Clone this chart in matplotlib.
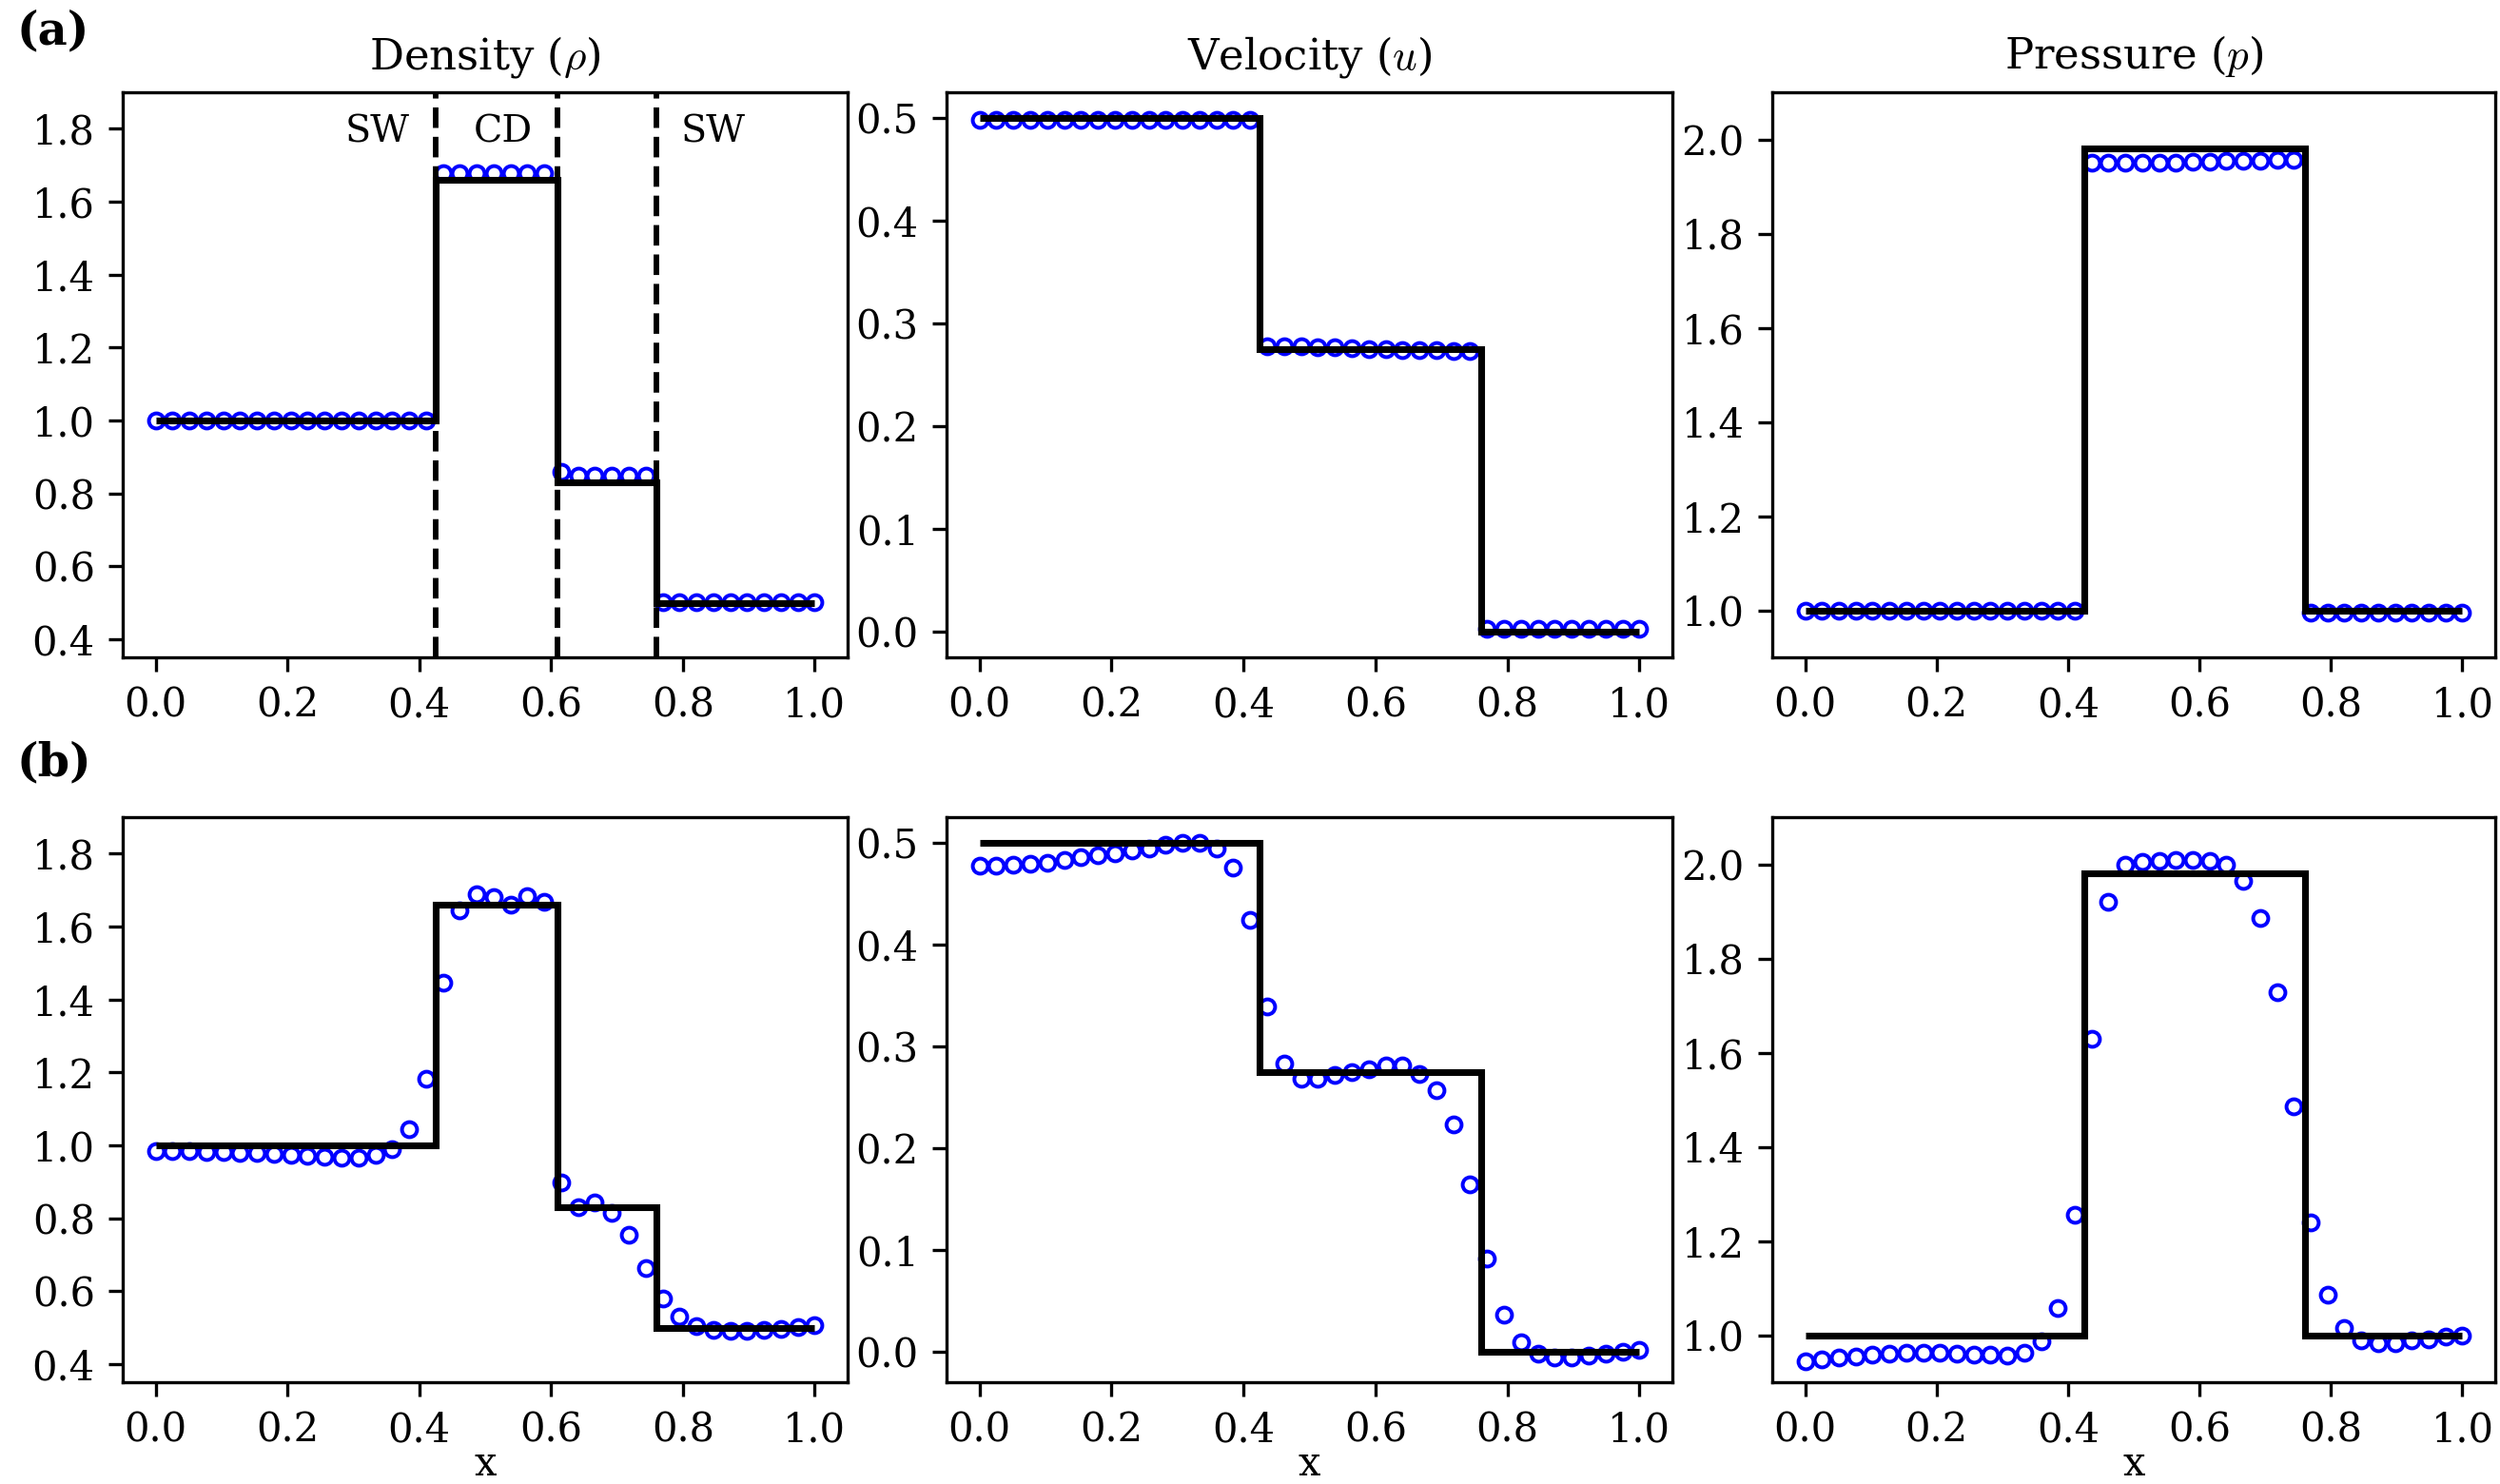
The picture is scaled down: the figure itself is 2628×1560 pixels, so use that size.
import numpy as np
import matplotlib
matplotlib.use("Agg")
import matplotlib.pyplot as plt

plt.rcParams['font.family'] = ['DejaVu Serif']
plt.rcParams['mathtext.fontset'] = 'cm'
plt.rcParams['font.size'] = 9

# ---------------- data ----------------
x_num = np.linspace(0.0, 1.0, 40)

# exact solution (piecewise constant)
edges_rho = [0.0, 0.425, 0.61, 0.76, 1.0]
rho_exact = [1.0, 1.66, 0.83, 0.5]
edges_up = [0.0, 0.425, 0.76, 1.0]
u_exact = [0.5, 0.275, 0.0]
p_exact = [1.0, 1.98, 1.0]

# wave positions and labels (row a, density)
wave_x = [0.425, 0.61, 0.76]
wave_labels = ["SW", "CD", "SW"]
wave_label_x = [0.336, 0.527, 0.846]

# row (a) numerical
rho_a = [1.0, 1.0, 1.0, 1.0, 1.0, 1.0, 1.0, 1.0, 1.0, 1.0, 1.0, 1.0, 1.0, 1.0, 1.0, 1.0, 1.0,
         1.677, 1.677, 1.677, 1.677, 1.677, 1.677, 1.677,
         0.859, 0.849, 0.849, 0.849, 0.849, 0.849,
         0.501, 0.501, 0.501, 0.501, 0.501, 0.501, 0.501, 0.501, 0.501, 0.501]
u_a = [0.498, 0.498, 0.498, 0.498, 0.498, 0.498, 0.498, 0.498, 0.498, 0.498,
       0.498, 0.498, 0.498, 0.498, 0.498, 0.498, 0.498,
       0.278, 0.278, 0.278, 0.277, 0.277, 0.276, 0.275, 0.275, 0.274, 0.274, 0.274, 0.273, 0.273,
       0.003, 0.003, 0.003, 0.003, 0.003, 0.003, 0.003, 0.003, 0.003, 0.003]
p_a = [1.0, 1.0, 1.0, 1.0, 1.0, 1.0, 1.0, 1.0, 1.0, 1.0, 1.0, 1.0, 1.0, 1.0, 1.0, 1.0, 1.0,
       1.950, 1.951, 1.950, 1.950, 1.950, 1.951, 1.952, 1.953, 1.954, 1.955, 1.955, 1.956, 1.956,
       0.995, 0.995, 0.995, 0.995, 0.995, 0.995, 0.995, 0.995, 0.995, 0.995]

# row (b) numerical
rho_b = [0.983, 0.983, 0.983, 0.981, 0.981, 0.979, 0.978, 0.976, 0.974, 0.971,
         0.968, 0.966, 0.966, 0.973, 0.990, 1.043, 1.183, 1.446, 1.643, 1.689,
         1.680, 1.659, 1.683, 1.669, 0.897, 0.830, 0.844, 0.814, 0.754, 0.664,
         0.580, 0.530, 0.504, 0.493, 0.490, 0.490, 0.494, 0.497, 0.501, 0.506]
u_b = [0.4776, 0.478, 0.479, 0.480, 0.481, 0.483, 0.486, 0.488, 0.490, 0.493,
       0.495, 0.498, 0.500, 0.500, 0.495, 0.476, 0.4246, 0.339, 0.283, 0.268,
       0.268, 0.272, 0.275, 0.278, 0.281, 0.281, 0.273, 0.257, 0.223, 0.164,
       0.091, 0.036, 0.0086, -0.002, -0.006, -0.006, -0.004, -0.002, 0.0, 0.0014]
p_b = [0.945, 0.949, 0.953, 0.955, 0.958, 0.960, 0.962, 0.962, 0.962, 0.961,
       0.959, 0.958, 0.957, 0.962, 0.986, 1.058, 1.256, 1.630, 1.921, 2.000,
       2.006, 2.007, 2.009, 2.010, 2.008, 2.000, 1.964, 1.886, 1.729, 1.485,
       1.240, 1.086, 1.016, 0.988, 0.982, 0.982, 0.988, 0.991, 0.997, 0.999]

titles = [r"Density ($\rho$)", r"Velocity ($u$)", r"Pressure ($p$)"]
xticks = [0.0, 0.2, 0.4, 0.6, 0.8, 1.0]
yticks_rho = [0.4, 0.6, 0.8, 1.0, 1.2, 1.4, 1.6, 1.8]
yticks_u = [0.0, 0.1, 0.2, 0.3, 0.4, 0.5]
yticks_p = [1.0, 1.2, 1.4, 1.6, 1.8, 2.0]

# ---------------- layout ----------------
W, H = 2628, 1560
fig = plt.figure(figsize=(W / 300, H / 300), dpi=300)

lefts = [129, 995, 1863]
widths = [762, 763, 760]
row_tops = [97, 859]
ax_h = 594


def make_ax(col, row):
    l = lefts[col] / W
    b = 1 - (row_tops[row] + ax_h) / H
    return fig.add_axes([l, b, widths[col] / W, ax_h / H])


mk = dict(ls='none', marker='o', mfc='none', mec='b', ms=3.8, mew=0.95, zorder=2)
ln = dict(color='k', lw=1.7, zorder=3)

rows_num = [(rho_a, u_a, p_a), (rho_b, u_b, p_b)]
for row in range(2):
    r_num, u_num, p_num = rows_num[row]
    # density
    ax = make_ax(0, row)
    ax.plot(x_num, r_num, **mk)
    ax.stairs(rho_exact, edges_rho, baseline=None, **ln)
    ax.set_ylim(0.35, 1.9)
    ax.set_yticks(yticks_rho)
    if row == 0:
        for wx in wave_x:
            ax.axvline(wx, color='k', ls='--', lw=1.4, zorder=3)
        for lx, lab in zip(wave_label_x, wave_labels):
            ax.text(lx, 1.79, lab, ha='center', va='center', fontsize=9.5)
        ax.set_title(titles[0], fontsize=10.8)
    # velocity
    ax2 = make_ax(1, row)
    ax2.plot(x_num, u_num, **mk)
    ax2.stairs(u_exact, edges_up, baseline=None, **ln)
    ax2.set_yticks(yticks_u)
    if row == 0:
        ax2.set_ylim(-0.025, 0.525)
        ax2.set_title(titles[1], fontsize=10.8)
    else:
        ax2.set_ylim(-0.0303, 0.5255)
    # pressure
    ax3 = make_ax(2, row)
    ax3.plot(x_num, p_num, **mk)
    ax3.stairs(p_exact, edges_up, baseline=None, **ln)
    ax3.set_ylim(0.9, 2.1)
    ax3.set_yticks(yticks_p)
    if row == 0:
        ax3.set_title(titles[2], fontsize=10.8)
    for a in (ax, ax2, ax3):
        a.set_xlim(-0.05, 1.05)
        a.set_xticks(xticks)
        a.tick_params(labelsize=10)
        if row == 1:
            a.set_xlabel("x", fontsize=10, labelpad=-1.5)

fig.text(18 / W, 1 - 33 / H, "(a)", fontweight='bold', fontsize=11.5, ha='left', va='center')
fig.text(18 / W, 1 - 802 / H, "(b)", fontweight='bold', fontsize=11.5, ha='left', va='center')

fig.savefig("out.png", dpi=300)
